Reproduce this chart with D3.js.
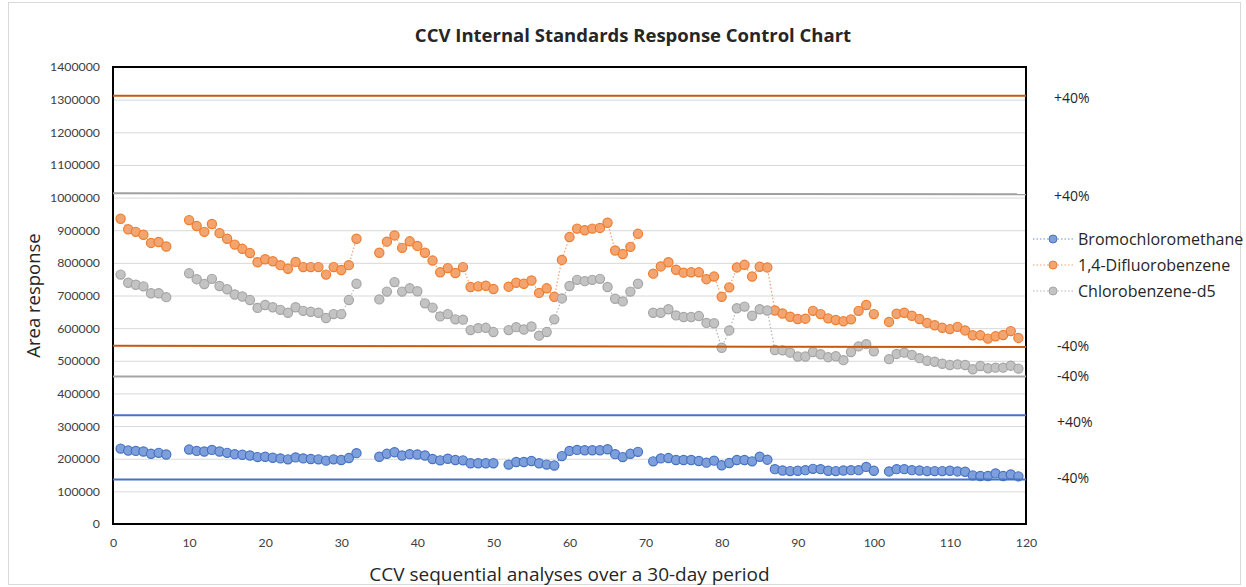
<!DOCTYPE html>
<html>
<head>
<meta charset="utf-8">
<script src="https://cdn.jsdelivr.net/npm/d3@7"></script>
<style>
    body{margin:0;background:#fff;}
    #canvas{width:1246px;height:587px;}
    text{font-family:Lato,'Noto Sans',sans-serif;fill:#404040;}
    .label{font-family:'Open Sans','Noto Sans',sans-serif;}
</style>
</head>
<body>
<div id="canvas" class="canvas"></div>
<script>
//Data, in thousands; null = no analysis for that run
var runs = d3.range(1,120);

var bromochloromethane = [
    231,225,224,222,215,218,213,null,null,
    228,224,222,227,222,218,214,212,210,205,206,203,201,198,204,201,199,198,194,198,196,202,217,null,null,
    206,215,220,210,214,213,210,199,195,200,196,195,186,186,186,186,null,
    182,190,190,193,186,182,179,208,224,227,226,226,226,229,214,205,215,221,null,
    192,201,202,196,196,196,193,188,194,180,187,196,196,192,206,197,168,164,162,163,165,169,168,163,162,164,165,165,175,163,null,
    161,168,168,165,164,162,162,162,163,161,160,149,147,147,155,147,152,146
];

var difluorobenzene = [
    935,903,895,886,861,864,850,null,null,
    931,913,895,919,891,874,856,843,830,802,811,805,793,782,803,787,787,787,764,787,778,793,874,null,null,
    831,865,884,846,866,852,831,807,771,784,769,787,726,728,730,720,null,
    727,739,736,746,708,722,696,809,879,905,900,905,907,923,838,827,849,889,null,
    767,789,802,779,770,771,771,750,758,696,725,786,794,758,788,786,654,645,635,628,629,653,643,630,625,621,627,653,671,643,null,
    619,644,647,638,628,616,609,601,597,604,593,578,578,568,575,579,591,570
];

var chlorobenzene = [
    764,739,733,728,707,707,695,null,null,
    768,750,735,751,729,719,703,697,686,662,671,664,656,647,664,653,650,647,631,643,643,686,736,null,null,
    688,712,741,712,722,713,676,663,636,643,627,626,594,600,601,588,null,
    594,603,596,605,577,588,627,691,729,748,744,748,751,726,690,682,712,736,null,
    647,647,658,639,634,634,637,616,615,540,593,661,666,638,658,654,533,532,525,513,513,527,520,511,514,502,527,544,551,529,null,
    505,521,525,518,508,500,497,491,487,489,487,474,484,477,479,479,485,476
];

//control limits (start, end of the period)
var limitX = [0,120];
var difluoroUpper = [1312,1312];
var chloroUpper = [1013,1010];
var difluoroLower = [546,542];
var chloroLower = [452,452];
var bromoUpper = [333,333];
var bromoLower = [136,136];

var limitLabels = ['+40%','+40%','-40%','-40%','+40%','-40%'];
var limitLabelValues = [1305,1003,546,454,313,140];

var seriesNames = ['Bromochloromethane','1,4-Difluorobenzene','Chlorobenzene-d5'];
var yTicks = d3.range(0,1400001,100000);
var xTicks = d3.range(0,121,10);

//margin convention
var m = {t:67,r:220,b:63,l:113};
var outerWidth = 1246, outerHeight = 587;
var w = outerWidth - m.l - m.r,
    h = outerHeight - m.t - m.b;

var svg = d3.select('.canvas')
    .append('svg')
    .attr('width',outerWidth)
    .attr('height',outerHeight);

//chart border
svg.append('rect')
    .attr('x',8.5).attr('y',2.5)
    .attr('width',1232).attr('height',582)
    .style('fill','none')
    .style('stroke','#d9d9d9');

var plot = svg.append('g')
    .attr('transform','translate(' + m.l + ',' + m.t + ')');

var scaleX = d3.scaleLinear().domain([0,120]).range([0,w]);
var scaleY = d3.scaleLinear().domain([0,1400000]).range([h,0]);

//gridlines
var axisY = d3.axisLeft()
    .scale(scaleY)
    .tickValues(yTicks)
    .tickSize(-w)
    .tickPadding(13)
    .tickFormat(d3.format('d'));
var gY = plot.append('g').attr('class','axis axis-y').call(axisY);
gY.select('.domain').remove();
gY.selectAll('line').style('stroke','#d9d9d9');
gY.selectAll('text').style('font-size','12.3px').style('fill','#404040');

var axisX = d3.axisBottom()
    .scale(scaleX)
    .tickValues(xTicks)
    .tickSize(0)
    .tickPadding(14);
var gX = plot.append('g').attr('class','axis axis-x')
    .attr('transform','translate(0,'+h+')')
    .call(axisX);
gX.select('.domain').remove();
gX.selectAll('text').style('font-size','12.3px').style('fill','#404040');

//plot frame
plot.append('rect')
    .attr('width',w).attr('height',h)
    .style('fill','none')
    .style('stroke','#000')
    .style('stroke-width',2);

//series
var series = [
    {name:seriesNames[0], values:bromochloromethane, stroke:'#4472c4', fill:'#7f9fdb', line:'#6f92d2'},
    {name:seriesNames[1], values:difluorobenzene, stroke:'#ed7d31', fill:'#f4a46e', line:'#f0a070'},
    {name:seriesNames[2], values:chlorobenzene, stroke:'#a5a5a5', fill:'#c3c3c3', line:'#b5b5b5'}
];

var line = d3.line()
    .defined(function(d){return d.v != null})
    .x(function(d){return scaleX(d.x)})
    .y(function(d){return scaleY(d.v*1000)});

series.forEach(function(s,k){
    var pts = runs.map(function(r,i){return {x:r, v:s.values[i]}});
    plot.append('path')
        .datum(pts)
        .attr('d',line)
        .style('fill','none')
        .style('stroke',s.line)
        .style('stroke-width',1.2)
        .style('stroke-dasharray','1.5,2');
    plot.selectAll('.pt-'+k)
        .data(pts.filter(function(d){return d.v != null}))
        .enter()
        .append('circle')
        .attr('class','pt-'+k)
        .attr('cx',function(d){return scaleX(d.x)})
        .attr('cy',function(d){return scaleY(d.v*1000)})
        .attr('r',4.6)
        .style('fill',s.fill)
        .style('stroke',s.stroke)
        .style('stroke-width',1.2);
});

//control limit lines
var limits = [
    {v:difluoroUpper, c:'#c55a11'},
    {v:chloroUpper, c:'#a0a0a0'},
    {v:difluoroLower, c:'#c55a11'},
    {v:chloroLower, c:'#a5a5a5'},
    {v:bromoUpper, c:'#4472c4'},
    {v:bromoLower, c:'#4472c4'}
];
limits.forEach(function(l){
    plot.append('line')
        .attr('x1',scaleX(limitX[0])).attr('x2',scaleX(limitX[1]))
        .attr('y1',scaleY(l.v[0]*1000)).attr('y2',scaleY(l.v[1]*1000))
        .style('stroke',l.c)
        .style('stroke-width',2);
});

//limit labels
plot.selectAll('.limit-label')
    .data(limitLabels)
    .enter()
    .append('text')
    .attr('class','limit-label label')
    .attr('x',function(d,i){return w + 28 + (i > 1 ? 3 : 0)})
    .attr('y',function(d,i){return scaleY(limitLabelValues[i]*1000)})
    .attr('dy','0.35em')
    .style('font-size','14px')
    .style('fill','#262626')
    .text(function(d){return d});

//titles
svg.append('text')
    .attr('class','label')
    .attr('x',633).attr('y',42)
    .attr('text-anchor','middle')
    .style('font-size','18.5px')
    .style('font-weight','bold')
    .style('fill','#262626')
    .text('CCV Internal Standards Response Control Chart');

svg.append('text')
    .attr('class','label')
    .attr('transform','translate(40,' + (m.t + h/2) + ') rotate(-90)')
    .attr('text-anchor','middle')
    .style('font-size','18.5px')
    .style('fill','#262626')
    .text('Area response');

svg.append('text')
    .attr('class','label')
    .attr('x',m.l + w/2).attr('y',581)
    .attr('text-anchor','middle')
    .style('font-size','19px')
    .style('fill','#262626')
    .text('CCV sequential analyses over a 30-day period');

//legend
var legend = svg.append('g')
    .attr('transform','translate(1033,239)');
var item = legend.selectAll('.legend-item')
    .data(series)
    .enter()
    .append('g')
    .attr('class','legend-item')
    .attr('transform',function(d,i){return 'translate(0,' + (i*26) + ')'});
item.append('line')
    .attr('x1',0).attr('x2',40)
    .style('stroke',function(d){return d.line})
    .style('stroke-width',1.2)
    .style('stroke-dasharray','1.5,2');
item.append('circle')
    .attr('cx',20).attr('r',4)
    .style('fill',function(d){return d.fill})
    .style('stroke',function(d){return d.stroke});
item.append('text')
    .attr('class','label')
    .attr('x',45)
    .attr('dy','0.35em')
    .style('font-size','16px')
    .style('fill','#262626')
    .text(function(d){return d.name});
</script>
</body>
</html>
